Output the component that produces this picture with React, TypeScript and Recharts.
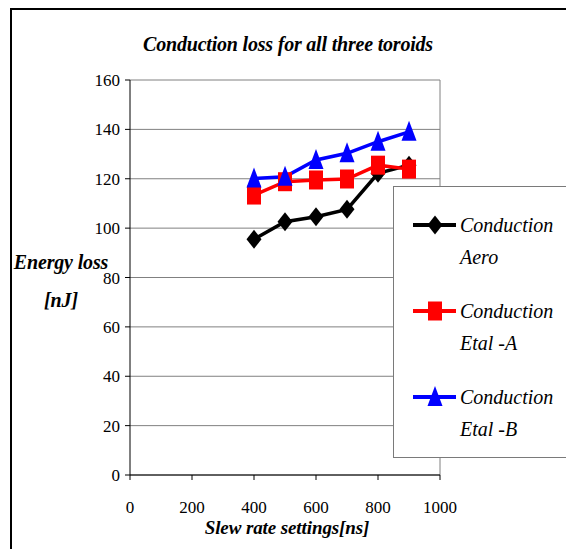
import { LineChart, Line, XAxis, YAxis, CartesianGrid, ReferenceLine } from "recharts";

const slewRates = [400, 500, 600, 700, 800, 900];
const aero = [95.5, 102.6, 104.6, 107.6, 122.2, 125.5];
const etalA = [113.4, 118.8, 119.5, 119.9, 125.5, 123.9];
const etalB = [120.1, 120.8, 127.6, 130.3, 135, 139];
const xTicks = [0, 200, 400, 600, 800, 1000];
const yTicks = [0, 20, 40, 60, 80, 100, 120, 140, 160];

const data = slewRates.map((s, i) => ({
  slew: s,
  aero: aero[i],
  etalA: etalA[i],
  etalB: etalB[i],
}));

const serif = "'Liberation Serif', 'DejaVu Serif', serif";

const Diamond = (props: any) => {
  const { cx, cy, fill } = props;
  if (cx == null || cy == null) return null;
  return <polygon points={`${cx},${cy - 9.5} ${cx + 7.5},${cy} ${cx},${cy + 9.5} ${cx - 7.5},${cy}`} fill={fill} />;
};

const Square = (props: any) => {
  const { cx, cy, fill } = props;
  if (cx == null || cy == null) return null;
  return <rect x={cx - 7} y={cy - 9.5} width={14} height={19} fill={fill} />;
};

const Triangle = (props: any) => {
  const { cx, cy, fill } = props;
  if (cx == null || cy == null) return null;
  return <polygon points={`${cx},${cy - 11} ${cx + 7.5},${cy + 9} ${cx - 7.5},${cy + 9}`} fill={fill} />;
};

const legendItems = [
  { name: "Aero", color: "#000000", Marker: Diamond },
  { name: "Etal -A", color: "#ff0000", Marker: Square },
  { name: "Etal -B", color: "#0000ff", Marker: Triangle },
];

function LegendBox() {
  return (
    <div
      style={{
        position: "absolute",
        left: 393,
        top: 186,
        width: 200,
        height: 272,
        border: "1.5px solid #7a7a7a",
        background: "#fff",
        boxSizing: "border-box",
      }}
    >
      {legendItems.map((it, i) => (
        <div key={it.name} style={{ position: "absolute", left: 0, top: 22 + i * 86, height: 70, width: 200 }}>
          <svg width={66} height={30} style={{ position: "absolute", left: 0, top: 1 }}>
            <line x1={19} x2={62} y1={15} y2={15} stroke={it.color} strokeWidth={4} />
            <it.Marker cx={41} cy={15} fill={it.color} />
          </svg>
          <div
            style={{
              position: "absolute",
              left: 66,
              top: 0,
              fontFamily: serif,
              fontStyle: "italic",
              fontSize: 20,
              lineHeight: "32px",
              color: "#000",
              whiteSpace: "nowrap",
            }}
          >
            Conduction
            <br />
            {it.name}
          </div>
        </div>
      ))}
    </div>
  );
}

export default function App() {
  return (
    <div
      style={{
        position: "absolute",
        left: 0,
        top: 0,
        width: 566,
        height: 549,
        overflow: "hidden",
        background: "#fff",
        fontFamily: serif,
      }}
    >
      <div
        style={{
          position: "absolute",
          left: 10,
          top: 8,
          width: 700,
          height: 700,
          borderLeft: "2px solid #000",
          borderTop: "2px solid #000",
        }}
      />
      <div
        style={{
          position: "absolute",
          left: 0,
          width: 576,
          top: 33,
          textAlign: "center",
          fontFamily: serif,
          fontStyle: "italic",
          fontWeight: "bold",
          fontSize: 20,
          letterSpacing: -0.2,
          color: "#000",
        }}
      >
        Conduction loss for all three toroids
      </div>
      <LineChart
        width={566}
        height={549}
        data={data}
        margin={{ top: 80, right: 126, bottom: 34, left: 70 }}
        style={{ position: "absolute", left: 0, top: 0, fontFamily: serif }}
      >
        <CartesianGrid vertical={false} stroke="#808080" strokeWidth={1} />
        <ReferenceLine x={1000} stroke="#808080" strokeWidth={1} />
        <XAxis
          dataKey="slew"
          type="number"
          domain={[0, 1000]}
          ticks={xTicks}
          tickSize={5}
          tickMargin={21}
          height={40}
          stroke="#000"
          tick={{ fill: "#000", fontFamily: serif, fontSize: 17 }}
          label={{
            value: "Slew rate settings[ns]",
            position: "insideBottom",
            offset: -19,
            dx: 2,
            style: { fontFamily: serif, fontStyle: "italic", fontWeight: "bold", fontSize: 19, letterSpacing: -0.1, fill: "#000" },
          }}
        />
        <YAxis
          type="number"
          domain={[0, 160]}
          ticks={yTicks}
          tickSize={5}
          tickMargin={5}
          width={60}
          stroke="#000"
          tick={{ fill: "#000", fontFamily: serif, fontSize: 17 }}
        />
        <Line dataKey="aero" stroke="#000000" strokeWidth={3.5} dot={<Diamond fill="#000000" />} isAnimationActive={false} />
        <Line dataKey="etalA" stroke="#ff0000" strokeWidth={3.5} dot={<Square fill="#ff0000" />} isAnimationActive={false} />
        <Line dataKey="etalB" stroke="#0000ff" strokeWidth={3.5} dot={<Triangle fill="#0000ff" />} isAnimationActive={false} />
      </LineChart>
      <LegendBox />
      <svg width={140} height={549} style={{ position: "absolute", left: 0, top: 0, pointerEvents: "none" }}>
        <g fontFamily={serif} fontStyle="italic" fontWeight="bold" fontSize={20} fill="#000">
          <text x={61} y={269} textAnchor="middle" letterSpacing={-0.15}>
            Energy loss
          </text>
          <text x={61} y={307} textAnchor="middle" letterSpacing={-0.15}>
            [nJ]
          </text>
        </g>
      </svg>
    </div>
  );
}
